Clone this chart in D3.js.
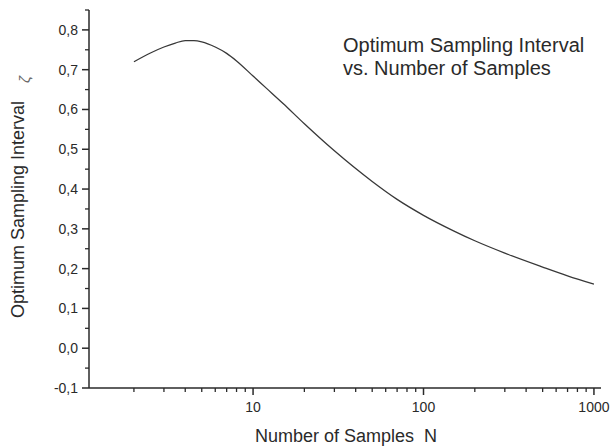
<!DOCTYPE html>
<html>
<head>
<meta charset="utf-8">
<script src="https://cdn.jsdelivr.net/npm/d3@7"></script>
<style>
  body { margin: 0; background: #fff; }
  svg { font-family: 'Liberation Sans', Arial, sans-serif; }
</style>
</head>
<body>
<div id="chart"></div>
<script>
// Data
const sampleN = [2, 2.5, 3, 3.5, 4, 4.5, 5, 6, 7, 8, 10, 12, 15, 20, 30, 50, 70, 100, 150, 200, 300, 500, 700, 1000];
const interval = [0.720, 0.742, 0.757, 0.767, 0.773, 0.773, 0.770, 0.757, 0.741, 0.722, 0.684, 0.653,
  0.615, 0.564, 0.496, 0.419, 0.374, 0.334, 0.295, 0.270, 0.239, 0.204, 0.182, 0.161];

const yTicks = [-0.1, 0, 0.1, 0.2, 0.3, 0.4, 0.5, 0.6, 0.7, 0.8];
const xTicks = [10, 100, 1000];
const titleLines = ['Optimum Sampling Interval', 'vs. Number of Samples'];

const width = 613;
const height = 448;
const ink = '#2a2a2a';

const xScale = d3.scaleLog().domain([1.09, 1100]).range([89, 601]);
const yScale = d3.scaleLinear().domain([-0.1, 0.85]).range([388, 10]);

const svg = d3
  .select('#chart')
  .append('svg')
  .attr('width', width)
  .attr('height', height);

// minor ticks: 2..9 in each decade, and every 0.05 on y
const xMinor = [];
[1, 10, 100].forEach((dec) => {
  for (let k = 2; k <= 9; k += 1) xMinor.push(k * dec);
});
const yMinor = d3.range(-0.05, 0.86, 0.1);

// x-axis
const xAxis = svg.append('g').attr('transform', `translate(0, ${yScale(-0.1)})`);
xAxis
  .append('line')
  .attr('x1', xScale.range()[0])
  .attr('x2', xScale.range()[1])
  .attr('stroke', ink)
  .attr('stroke-width', 1.5);
xAxis
  .selectAll('.minor')
  .data(xMinor)
  .join('line')
  .attr('x1', (d) => xScale(d))
  .attr('x2', (d) => xScale(d))
  .attr('y2', 4)
  .attr('stroke', ink)
  .attr('stroke-width', 1.3);
xAxis
  .selectAll('.major')
  .data(xTicks)
  .join('line')
  .attr('x1', (d) => xScale(d))
  .attr('x2', (d) => xScale(d))
  .attr('y2', 7)
  .attr('stroke', ink)
  .attr('stroke-width', 1.5);
xAxis
  .selectAll('text')
  .data(xTicks)
  .join('text')
  .attr('x', (d) => xScale(d))
  .attr('y', 24)
  .attr('text-anchor', 'middle')
  .attr('fill', ink)
  .style('font-size', '14px')
  .text((d) => d);

// y-axis
const yAxis = svg.append('g').attr('transform', `translate(${xScale.range()[0]}, 0)`);
yAxis
  .append('line')
  .attr('y1', yScale.range()[0])
  .attr('y2', yScale.range()[1])
  .attr('stroke', ink)
  .attr('stroke-width', 1.5);
yAxis
  .selectAll('.minor')
  .data(yMinor)
  .join('line')
  .attr('y1', (d) => yScale(d))
  .attr('y2', (d) => yScale(d))
  .attr('x2', -4)
  .attr('stroke', ink)
  .attr('stroke-width', 1.3);
yAxis
  .selectAll('.major')
  .data(yTicks)
  .join('line')
  .attr('y1', (d) => yScale(d))
  .attr('y2', (d) => yScale(d))
  .attr('x2', -7)
  .attr('stroke', ink)
  .attr('stroke-width', 1.5);
yAxis
  .selectAll('text')
  .data(yTicks)
  .join('text')
  .attr('x', -11)
  .attr('y', (d) => yScale(d))
  .attr('dy', '0.35em')
  .attr('text-anchor', 'end')
  .attr('fill', ink)
  .style('font-size', '14px')
  .text((d) => d3.format('.1f')(d).replace('.', ',').replace('−', '-'));

// the curve
const line = d3
  .line()
  .x((d, i) => xScale(sampleN[i]))
  .y((d) => yScale(d))
  .curve(d3.curveMonotoneX);

svg
  .append('path')
  .datum(interval)
  .attr('d', line)
  .attr('fill', 'none')
  .attr('stroke', '#383838')
  .attr('stroke-width', 1.3);

// axis names
svg
  .append('text')
  .attr('x', 346)
  .attr('y', 442)
  .attr('text-anchor', 'middle')
  .attr('fill', ink)
  .style('font-size', '18px')
  .style('white-space', 'pre')
  .text('Number of Samples  N');

svg
  .append('text')
  .attr('transform', 'translate(24, 318) rotate(-90)')
  .attr('fill', ink)
  .style('font-size', '18px')
  .text('Optimum Sampling Interval');

svg
  .append('text')
  .attr('transform', 'translate(30, 83) rotate(-90)')
  .attr('fill', '#666')
  .style('font-size', '15px')
  .style('font-style', 'italic')
  .text('ζ');

// annotation
svg
  .append('g')
  .selectAll('text')
  .data(titleLines)
  .join('text')
  .attr('x', 343)
  .attr('y', (d, i) => 52 + i * 23)
  .attr('fill', ink)
  .style('font-size', '20px')
  .text((d) => d);
</script>
</body>
</html>
